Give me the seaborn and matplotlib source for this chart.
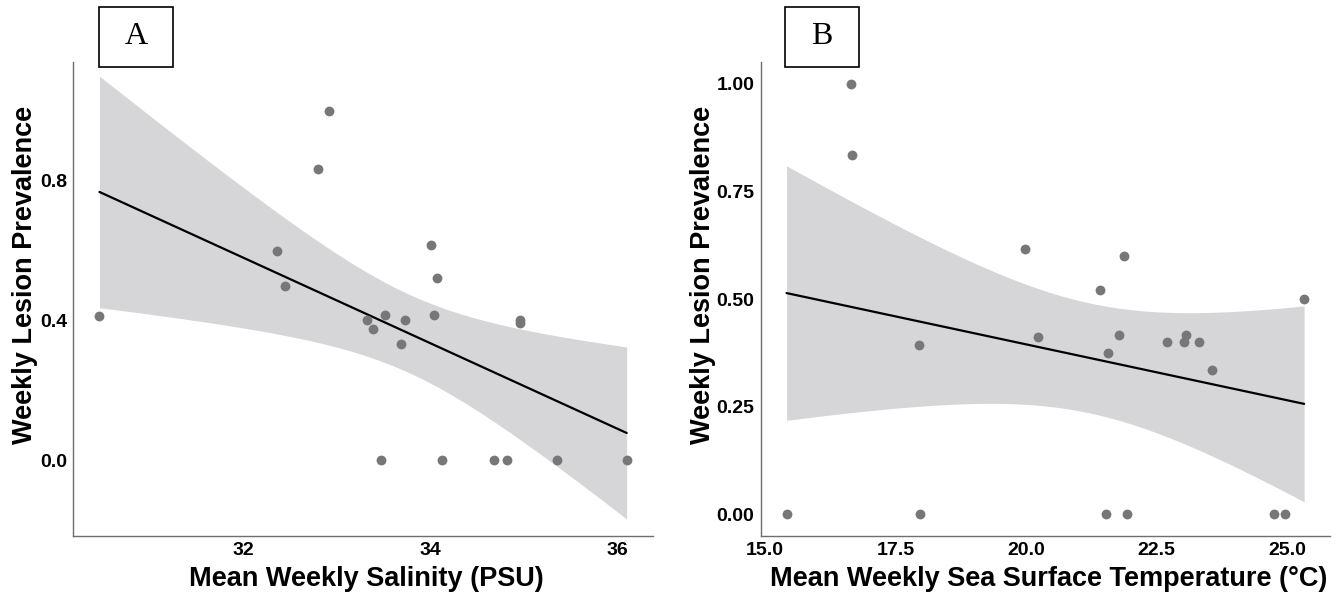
import matplotlib
matplotlib.use("Agg")
import matplotlib.pyplot as plt
from matplotlib.patches import Rectangle
import seaborn as sns
import pandas as pd
import numpy as np

# panel A: salinity vs prevalence
salinity = [30.46, 32.36, 32.45, 32.80, 32.92, 33.32, 33.39, 33.51, 33.69, 33.73, 33.47,
            34.01, 34.04, 34.07, 34.12, 34.68, 34.82, 34.96, 34.96, 35.35, 36.10]
prev_a = [0.412, 0.60, 0.50, 0.834, 1.0, 0.40, 0.375, 0.417, 0.334, 0.40, 0.0,
          0.616, 0.417, 0.521, 0.0, 0.0, 0.0, 0.40, 0.393, 0.0, 0.0]

# panel B: SST vs prevalence
sst = [15.42, 16.65, 16.68, 17.96, 17.97, 19.98, 20.22, 21.41, 21.53, 21.57, 21.78,
       21.88, 21.93, 22.69, 23.02, 23.07, 23.31, 23.56, 24.75, 24.96, 25.32]
prev_b = [0.0, 1.0, 0.834, 0.393, 0.0, 0.616, 0.4125, 0.521, 0.0, 0.375, 0.417,
          0.601, 0.0, 0.40, 0.40, 0.417, 0.40, 0.334, 0.0, 0.0, 0.50]

xticks_a = [32, 34, 36]
yticks_a = [0.0, 0.4, 0.8]
xticks_b = [15.0, 17.5, 20.0, 22.5, 25.0]
yticks_b = [0.0, 0.25, 0.5, 0.75, 1.0]

df_a = pd.DataFrame({"x": salinity, "y": prev_a})
df_b = pd.DataFrame({"x": sst, "y": prev_b})

sns.set_style("white")
plt.rcParams['font.family'] = ['Liberation Sans', 'DejaVu Sans']

POINT = "#777777"
BAND = "#d6d6d8"
AXC = "#6e6e6e"
tick_font = dict(family=['Liberation Sans Narrow', 'Liberation Sans', 'DejaVu Sans'],
                 weight='bold', size=14)
label_font = dict(family=['Liberation Sans', 'DejaVu Sans'], weight='bold', size=19.5,
                  color='black')


def lm_band(x, y, grid):
    # t-based confidence band, like ggplot's geom_smooth(method="lm")
    x = np.asarray(x, float)
    y = np.asarray(y, float)
    n = len(x)
    b1, b0 = np.polyfit(x, y, 1)
    resid = y - (b0 + b1 * x)
    s = np.sqrt(np.sum(resid ** 2) / (n - 2))
    sxx = np.sum((x - x.mean()) ** 2)
    t = 2.093  # t(0.975, 19)
    fit = b0 + b1 * grid
    se = s * np.sqrt(1.0 / n + (grid - x.mean()) ** 2 / sxx)
    return fit - t * se, fit + t * se


fig = plt.figure(figsize=(13.41, 5.94), dpi=100)
ax_a = fig.add_axes([73.3 / 1341, 58.3 / 594, 580 / 1341, 473.4 / 594])
ax_b = fig.add_axes([760.7 / 1341, 58.3 / 594, 569.3 / 1341, 473.4 / 594])

panels = [
    (ax_a, df_a, xticks_a, yticks_a, (30.18, 36.385), (-0.216, 1.139),
     [str(v) for v in xticks_a], [f"{v:.1f}" for v in yticks_a],
     "Mean Weekly Salinity (PSU)", -0.083, 0.505),
    (ax_b, df_b, xticks_b, yticks_b, (14.925, 25.815), (-0.05, 1.05),
     [f"{v:.1f}" for v in xticks_b], [f"{v:.2f}" for v in yticks_b],
     "Mean Weekly Sea Surface Temperature (°C)", -0.101, 0.505),
]

for ax, df, xt, yt, xl, yl, xtl, ytl, xlab, ylab_x, xlab_x in panels:
    grid = np.linspace(df["x"].min(), df["x"].max(), 200)
    lo, hi = lm_band(df["x"], df["y"], grid)
    ax.fill_between(grid, lo, hi, color=BAND, linewidth=0, zorder=1)
    sns.regplot(data=df, x="x", y="y", ax=ax, ci=None, truncate=True,
                scatter_kws={"s": 50, "color": POINT, "alpha": 1, "linewidths": 0, "zorder": 3},
                line_kws={"color": "black", "lw": 1.6, "zorder": 2})
    ax.set_xlim(*xl)
    ax.set_ylim(*yl)
    ax.set_xticks(xt)
    ax.set_yticks(yt)
    ax.set_xticklabels(xtl, **tick_font)
    ax.set_yticklabels(ytl, **tick_font)
    ax.tick_params(length=2.5, width=0.8, color=AXC, pad=2, labelcolor="black")
    for side in ["top", "right"]:
        ax.spines[side].set_visible(False)
    for side in ["left", "bottom"]:
        ax.spines[side].set_color(AXC)
        ax.spines[side].set_linewidth(1.0)
    ax.set_xlabel(xlab, **label_font)
    ax.set_ylabel("Weekly Lesion Prevalence", **label_font)
    ax.xaxis.set_label_coords(xlab_x, -0.065)
    ax.yaxis.set_label_coords(ylab_x, 0.55)
    ax.xaxis.label.set_va("top")
    ax.yaxis.label.set_va("center")

# panel tags
for (x0, y0, lab) in [(99.3, 7, "A"), (785, 7, "B")]:
    fig.add_artist(Rectangle((x0 / 1341, 1 - 67 / 594), 74 / 1341, 60 / 594,
                             transform=fig.transFigure, fill=False,
                             edgecolor="black", linewidth=1.2))
    fig.text((x0 + 37) / 1341, 1 - 37 / 594, lab, ha="center", va="center",
             family=['Liberation Serif', 'DejaVu Serif'], size=23, color="black")

fig.savefig("out.png", dpi=100)
